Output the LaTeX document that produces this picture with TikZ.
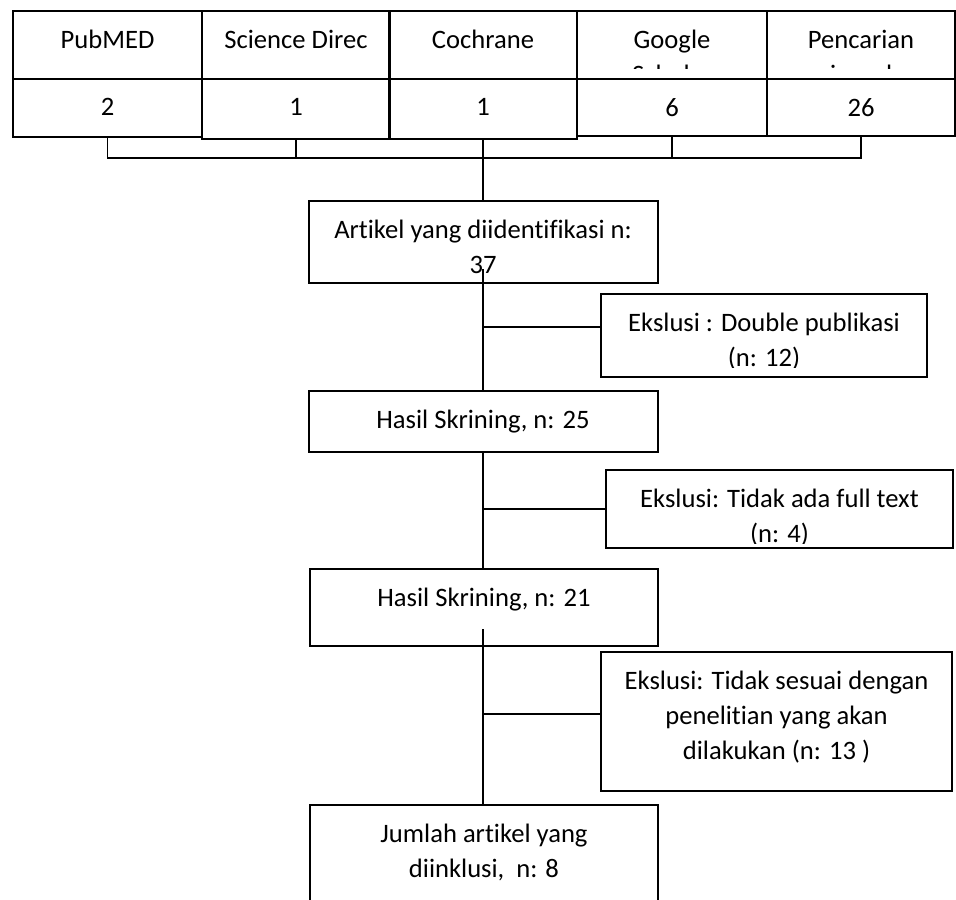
\documentclass[tikz,border=0pt]{standalone}
\usepackage{fontspec}
\setmainfont{Carlito}[Ligatures=CommonOff]
\tikzset{
  clipgap/.store in=\clipgap, clipgap=5pt,
  box/.style={draw, line width=1pt, inner sep=0pt},
  cell/.style={box, line width=1.3pt},
  boxtext/.style={path picture={
      \clip ([yshift=\clipgap]path picture bounding box.south west) rectangle (path picture bounding box.north east);
      \node[anchor=north, align=center, inner sep=0pt, minimum width=0pt, minimum height=0pt, draw=none]
        at ([yshift=-9pt]path picture bounding box.north) {#1};}},
  link/.style={line width=0.85pt},
}
\begin{document}
\begin{tikzpicture}[x=0.5pt, y=-0.5pt, font=\fontsize{13.3}{17.5}\selectfont]
  \useasboundingbox (0,0) rectangle (956,899);
  \clip (0,0) rectangle (956,899);
  % databases
  \node[cell, minimum width=94.5pt, minimum height=34pt, boxtext=PubMED] (db1) at (107.5,45) {};
  \node[cell, minimum width=94pt, minimum height=34pt, boxtext=Science Direc] (db2) at (296,45) {};
  \node[cell, minimum width=94pt, minimum height=34pt, boxtext=Cochrane] (db3) at (483,45) {};
  \node[cell, minimum width=95pt, minimum height=34pt, boxtext={Google\\Scholar}] (db4) at (672,45) {};
  \node[cell, minimum width=94pt, minimum height=34pt, boxtext={Pencarian\\jurnal}] (db5) at (861,45) {};
  % counts
  \node[cell, minimum width=94.5pt, minimum height=29pt, boxtext=2] (n1) at (107.5,108) {};
  \node[cell, minimum width=94pt, minimum height=30pt, boxtext=1] (n2) at (296,109) {};
  \node[cell, minimum width=94pt, minimum height=30pt, boxtext=1] (n3) at (483,109) {};
  \node[cell, minimum width=95pt, minimum height=28.5pt, boxtext=6] (n4) at (672,107.5) {};
  \node[cell, minimum width=94pt, minimum height=28.5pt, boxtext=26] (n5) at (861,107.5) {};
  % flow
  \node[box, minimum width=174.5pt, minimum height=41pt, boxtext={Artikel yang diidentifikasi n:\\37}] (id) at (483,242) {};
  \node[box, minimum width=163pt, minimum height=41.5pt, boxtext={Ekslusi : Double publikasi\\(n: 12)}] (ex1) at (764,335.5) {};
  \node[box, minimum width=174.5pt, minimum height=30.5pt, boxtext={Hasil Skrining, n: 25}] (sk1) at (483,421.5) {};
  \node[box, minimum width=173.5pt, minimum height=39pt, clipgap=2.5pt, boxtext={Ekslusi: Tidak ada full text\\(n: 4)}] (ex2) at (779.5,509) {};
  \node[box, minimum width=174pt, minimum height=38.5pt, boxtext={Hasil Skrining, n: 21}] (sk2) at (484,607.5) {};
  \node[box, minimum width=175.5pt, minimum height=69.5pt, boxtext={Ekslusi: Tidak sesuai dengan\\penelitian yang akan\\dilakukan (n: 13 )}] (ex3) at (776.5,721.5) {};
  \node[box, minimum width=174pt, minimum height=60pt, boxtext={Jumlah artikel yang\\diinklusi,~ n: 8}] (inc) at (484,865) {};
  \coordinate (bar) at (0,158);
  \coordinate (b1) at ([yshift=4.25pt]ex1.west);
  \coordinate (b3) at ([yshift=3.75pt]ex3.west);
  % connectors
  \draw[link] (n1.south) -- (n1.south |- bar) -- (n5.south |- bar) -- (n5.south);
  \draw[link] (n2.south) -- (n2.south |- bar);
  \draw[link] (n4.south) -- (n4.south |- bar);
  \draw[link] (n3.south) -- (id.north);
  \draw[link] ([yshift=7.5pt]id.south) -- (sk1.north);
  \draw[link] (b1) -- (id.south |- b1);
  \draw[link] (sk1.south) -- (sk1.south |- sk2.north);
  \draw[link] (ex2.west) -- (sk1.south |- ex2.west);
  \draw[link] ([yshift=9pt]sk2.south -| id.south) -- (id.south |- inc.north);
  \draw[link] (b3) -- (id.south |- b3);
\end{tikzpicture}
\end{document}
